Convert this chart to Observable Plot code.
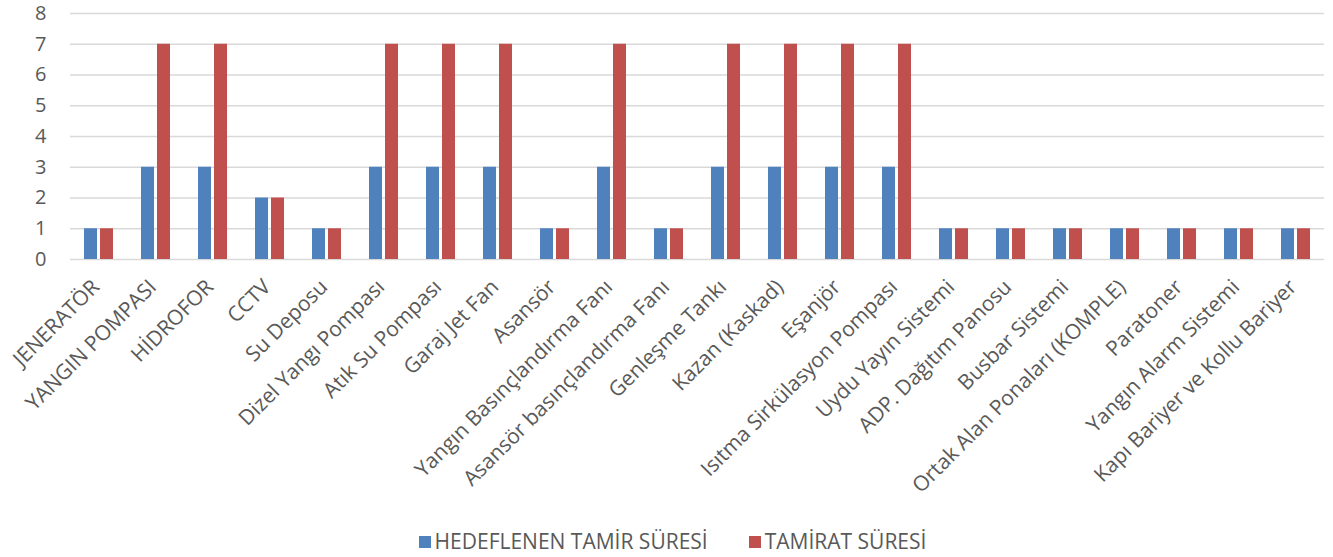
<!DOCTYPE html>
<html>
<head>
<meta charset="utf-8">
<script src="https://cdn.jsdelivr.net/npm/d3@7"></script>
<script src="https://cdn.jsdelivr.net/npm/@observablehq/plot@0.6"></script>
<style>
  html, body { margin: 0; padding: 0; background: #fff; }
  #chart { width: 1333px; height: 522px; }
  .legend { display: flex; justify-content: center; gap: 41px; font-family: "Open Sans", sans-serif; font-size: 21px; line-height: 28px; color: #595959; margin-top: 5px; padding-left: 12px; }
  .legend span.sw { display: inline-block; width: 12px; height: 12px; margin-right: 4px; vertical-align: 1px; }
</style>
</head>
<body>
<div id="chart"></div>
<script>
const categories = ["JENERATÖR","YANGIN POMPASI","HİDROFOR","CCTV","Su Deposu","Dizel Yangı Pompası","Atık Su Pompası","Garaj Jet Fan","Asansör","Yangın Basınçlandırma Fanı","Asansör basınçlandırma Fanı","Genleşme Tankı","Kazan (Kaskad)","Eşanjör","Isıtma Sirkülasyon Pompası","Uydu Yayın Sistemi","ADP. Dağıtım Panosu","Busbar Sistemi","Ortak Alan Ponaları (KOMPLE)","Paratoner","Yangın Alarm Sistemi","Kapı Bariyer ve Kollu Bariyer"];
const seriesNames = ["HEDEFLENEN TAMİR SÜRESİ","TAMİRAT SÜRESİ"];
const hedeflenen = [1,3,3,2,1,3,3,3,1,3,1,3,3,3,3,1,1,1,1,1,1,1];
const tamirat =    [1,7,7,2,1,7,7,7,1,7,1,7,7,7,7,1,1,1,1,1,1,1];
const colors = ["#4F81BD","#C0504D"];
const yTicks = [0,1,2,3,4,5,6,7,8];

const data = [];
categories.forEach((c, i) => {
  data.push({cat: c, series: seriesNames[0], value: hedeflenen[i]});
  data.push({cat: c, series: seriesNames[1], value: tamirat[i]});
});

const chart = Plot.plot({
  width: 1333,
  height: 522,
  marginLeft: 67,
  marginRight: 6,
  marginTop: 13,
  marginBottom: 263,
  style: {fontFamily: "'Open Sans', sans-serif", fontSize: "20px", color: "#595959", background: "#fff"},
  fx: {domain: categories, padding: 0, label: null, axis: null},
  x: {domain: seriesNames, paddingInner: 0.2, paddingOuter: 0.825, axis: null},
  y: {domain: [0, 8], label: null, axis: null},
  color: {domain: seriesNames, range: colors},
  marks: [
    Plot.gridY(yTicks, {stroke: "#d9d9d9", strokeOpacity: 1, strokeWidth: 1.5}),
    Plot.axisY(yTicks, {tickSize: 0, tickPadding: 24, label: null, fontSize: 20, fill: "#595959"}),
    Plot.axisFx({anchor: "bottom", tickRotate: -45, tickSize: 0, tickPadding: 24, dx: -3, label: null, fontSize: 21, fill: "#595959"}),
    Plot.barY(data, {fx: "cat", x: "series", y: "value", fill: "series"})
  ]
});
document.getElementById("chart").appendChild(chart);

const legend = document.createElement("div");
legend.className = "legend";
seriesNames.forEach((s, i) => {
  const item = document.createElement("div");
  item.innerHTML = `<span class="sw" style="background:${colors[i]}"></span>${s}`;
  legend.appendChild(item);
});
document.body.appendChild(legend);
</script>
</body>
</html>
